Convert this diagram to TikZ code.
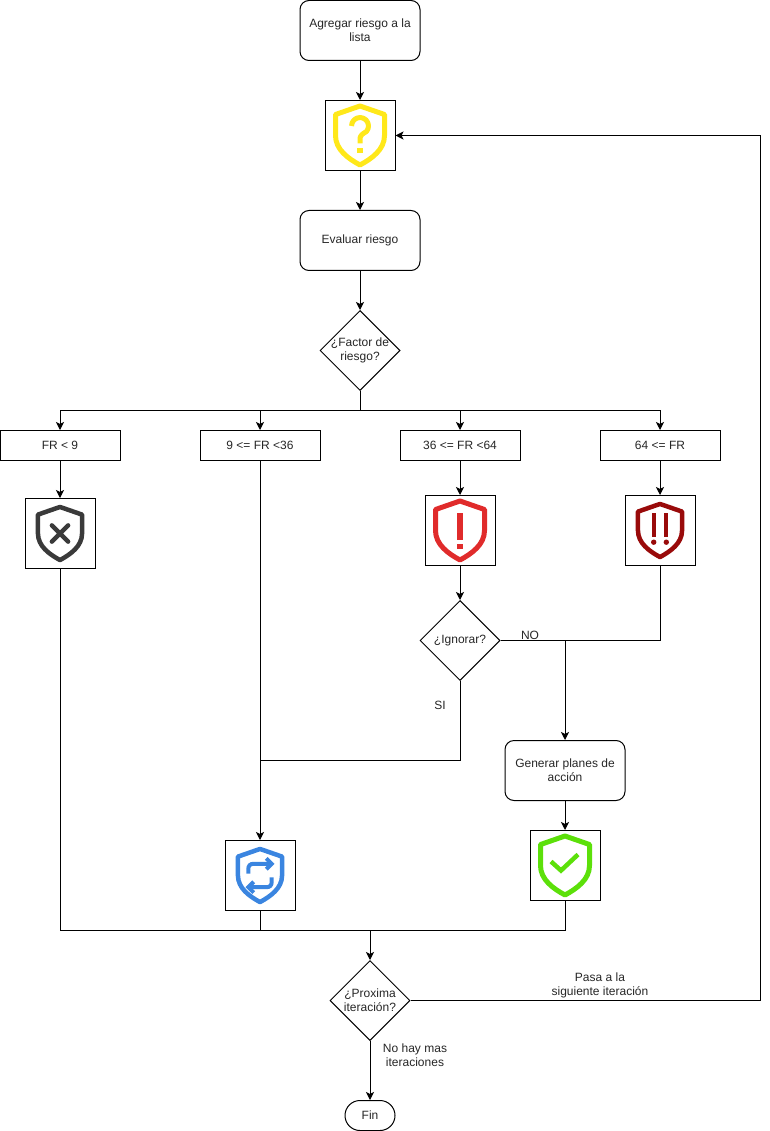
\documentclass[tikz,border=0pt]{standalone}
\usepackage{fontspec}
\setmainfont{Liberation Sans}
\usetikzlibrary{arrows.meta,shapes.geometric,calc}
\definecolor{cyellow}{HTML}{FFE81A}
\definecolor{cblack}{HTML}{3A3A3A}
\definecolor{cred}{HTML}{E02B2B}
\definecolor{cdred}{HTML}{990A0A}
\definecolor{cblue}{HTML}{3A85E0}
\definecolor{cgreen}{HTML}{5CE00A}
\tikzset{
  every node/.style={font=\fontsize{12}{14}\selectfont,text=black!85},
  conn/.style={draw=black,line width=1pt},
  arr/.style={conn,-{Stealth[length=8pt,width=8pt,inset=2pt]}},
  rbox/.style={draw=black,line width=1pt,rounded corners=9pt,minimum width=120pt,minimum height=60pt,align=center,inner sep=0pt},
  fbox/.style={draw=black,line width=1pt,minimum width=120pt,minimum height=30pt,inner sep=0pt},
  ibox/.style={draw=black,line width=1pt,minimum width=70pt,minimum height=70pt,inner sep=0pt},
  diam/.style={draw=black,line width=1pt,diamond,minimum width=80pt,minimum height=80pt,inner sep=0pt},
  lab/.style={align=center,inner sep=0pt},
  endbox/.style={draw=black,line width=1pt,rounded corners=15pt,minimum width=50pt,minimum height=30pt,inner sep=0pt},
}
% #1 centre, #2 scale, #3 colour, #4 glyph
\newcommand{\shieldicon}[4]{%
  \begin{scope}[shift={(#1)},x=#2pt,y=-#2pt,line join=round,draw=#3,fill=#3,line width=#2*5pt]
    \draw (0,-29.5) -- (24.5,-21) -- (24.5,0) .. controls (24.5,14) and (12,23) .. (0,29.5)
      .. controls (-12,23) and (-24.5,14) .. (-24.5,0) -- (-24.5,-21) -- cycle;
    #4
  \end{scope}}
\begin{document}
\begin{tikzpicture}[x=1pt,y=-1pt]
\useasboundingbox (0,-0.5) rectangle (769,1130.5);
\node[rbox] (start) at (360,30) {Agregar riesgo a la\\lista};
\node[ibox] (iq) at (360,135) {};
\node[rbox] (eval) at (360,240) {Evaluar riesgo};
\node[diam,label={[lab]center:¿Factor de\\riesgo?}] (dfr) at (360,350) {};
\coordinate (split) at (360,410);
\node[fbox] (f1) at (60,445) {FR < 9};
\node[fbox] (f2) at (260,445) {9 <= FR <36};
\node[fbox] (f3) at (460,445) {36 <= FR <64};
\node[fbox] (f4) at (660,445) {64 <= FR};
\node[ibox] (ix) at (60,533) {};
\node[ibox] (ir) at (460,530) {};
\node[ibox] (idr) at (660,530) {};
\node[diam,label={[lab]center:¿Ignorar?}] (dig) at (460,640) {};
\node[rbox] (gen) at (565,770) {Generar planes de\\acción};
\node[ibox] (ib) at (260,875) {};
\node[ibox] (ig) at (565,865) {};
\node[diam,label={[lab]center:¿Proxima\\iteración?}] (dpi) at (370,1000) {};
\node[endbox] (fin) at (370,1115) {Fin};
\coordinate (jno) at (565,640);
\coordinate (jsi) at (260,760);
\coordinate (jbot) at (370,930);
\coordinate (jright) at (760,1000);

\draw[arr] (start.south) -- (iq.north);
\draw[arr] (iq.south) -- (eval.north);
\draw[arr] (eval.south) -- (dfr.north);
\draw[conn] (dfr.south) -- (split);
\draw[arr] (split) -| (f1.north);
\draw[arr] (split) -| (f2.north);
\draw[arr] (split) -| (f3.north);
\draw[arr] (split) -| (f4.north);
\draw[arr] (f1.south) -- (ix.north);
\draw[arr] (f2.south) -- (ib.north);
\draw[arr] (f3.south) -- (ir.north);
\draw[arr] (f4.south) -- (idr.north);
\draw[arr] (ir.south) -- (dig.north);
\draw[conn] (dig.east) -- (jno);
\draw[conn] (idr.south) |- (jno);
\draw[arr] (jno) -- (gen.north);
\draw[conn] (dig.south) |- (jsi);
\draw[arr] (gen.south) -- (ig.north);
\draw[conn] (ix.south) |- (jbot);
\draw[conn] (ib.south) |- (jbot);
\draw[conn] (ig.south) |- (jbot);
\draw[arr] (jbot) -- (dpi.north);
\draw[arr] (dpi.south) -- (fin.north);
\draw[conn] (dpi.east) -- (jright);
\draw[arr] (jright) |- (iq.east);

\node[lab] (tno) at (530,635) {NO};
\node[lab] (tsi) at (440,705) {SI};
\node[lab] (tpasa) at (600,985) {Pasa a la\\siguiente iteración};
\node[lab] (tnohay) at (415,1055) {No hay mas\\iteraciones};

\shieldicon{iq.center}{1}{cyellow}{
  \draw[fill=none] (-8.5,-9.5) arc[start angle=180,end angle=400,radius=8.5] .. controls (3,-2) and (0,0) .. (0,3) -- (0,8);
  \fill (-3,13) rectangle (3,18);
}
\shieldicon{ix.center}{0.9}{cblack}{
  \draw[fill=none,line cap=round] (-9,-9) -- (9,9) (-9,9) -- (9,-9);
}
\shieldicon{ir.center}{1}{cred}{
  \fill (-3,-18) rectangle (3,9);
  \fill (-3,13) rectangle (3,18);
}
\shieldicon{idr.center}{0.9}{cdred}{
  \fill (-9,-19) rectangle (-4,7);
  \fill (4,-19) rectangle (9,7);
  \fill (-7,13) circle (3);
  \fill (7,13) circle (3);
}
\shieldicon{ib.center}{0.9}{cblue}{
  \draw[fill=none,line width=4pt,line join=miter] (-13,-2) -- (-13,-7) .. controls (-13,-11) and (-11,-13) .. (-7,-13) -- (13,-13);
  \draw[fill=none,line width=4pt,line join=miter] (7,-19) -- (13,-13) -- (7,-7);
  \draw[fill=none,line width=4pt,line join=miter] (13,2) -- (13,7) .. controls (13,11) and (11,13) .. (7,13) -- (-13,13);
  \draw[fill=none,line width=4pt,line join=miter] (-7,19) -- (-13,13) -- (-7,7);
}
\shieldicon{ig.center}{1}{cgreen}{
  \draw[fill=none,line join=miter,line width=4.5pt] (-14,-4) -- (-4,5) -- (13,-11);
}
\end{tikzpicture}
\end{document}
